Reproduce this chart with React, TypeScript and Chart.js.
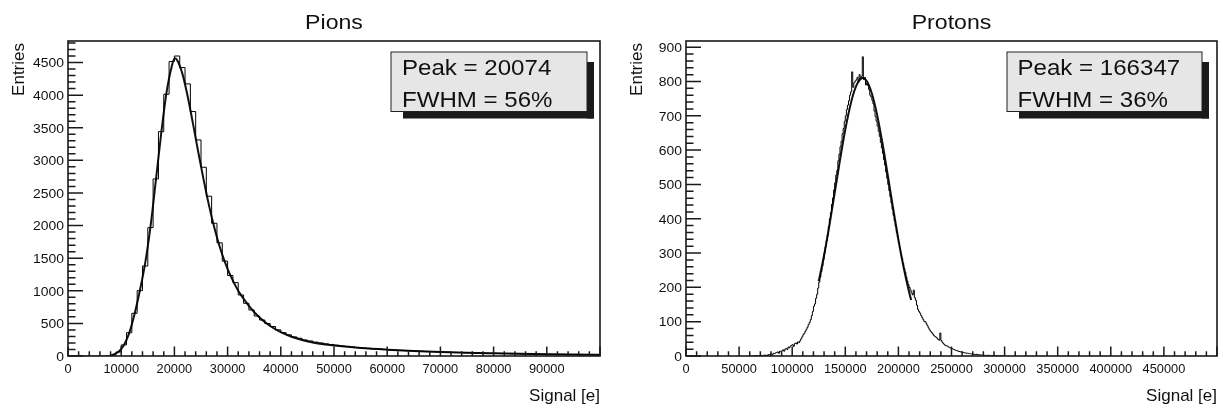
import React, { useEffect, useRef } from "react";
import { Chart, registerables } from "chart.js";

Chart.register(...registerables);

const FONT = "'Liberation Sans', Arial, Helvetica, sans-serif";

// ---------------- Pions ----------------
const PION_TITLE = "Pions";
const PION_BIN_START = 0;
const PION_BIN_WIDTH = 1000;
const PION_COUNTS = [
  0, 0, 0, 0, 0, 0, 0, 0, 15, 62,
  170, 357, 655, 1002, 1380, 1968, 2715, 3440, 4014, 4515,
  4600, 4422, 4172, 3748, 3313, 2894, 2450, 2035, 1735, 1455,
  1235, 1125, 936, 808, 706, 613, 552, 498, 452, 401,
  358, 325, 293, 272, 246, 231, 213, 201, 186, 177,
  166, 154, 147, 137, 131, 122, 118, 110, 106, 99,
  96, 90, 87, 82, 80, 75, 73, 68, 67, 63,
  61, 59, 55, 54, 50, 49, 46, 46, 42, 41,
  40, 37, 37, 34, 34, 31, 31, 29, 28, 27,
  26, 24, 24, 23, 21, 21, 20, 19, 19, 18,
];
const PION_FIT_X = [
  8000, 8500, 9500, 10500, 11500, 12500, 13500, 14500, 15500, 16500,
  17500, 18500, 19500, 20074, 20500, 21500, 22500, 23500, 24500, 25500,
  26500, 27500, 28500, 29500, 30500, 32000, 34000, 36000, 38000, 40000,
  42000, 44000, 46000, 48000, 50000, 55000, 60000, 65000, 70000, 75000,
  80000, 85000, 90000, 95000, 100000,
];
const PION_FIT_Y = [
  5, 20, 65, 165, 350, 640, 1000, 1420, 1980, 2680,
  3400, 4030, 4440, 4565, 4540, 4330, 3980, 3560, 3120, 2700,
  2310, 1970, 1680, 1440, 1240, 1000, 770, 590, 460, 365,
  295, 245, 208, 180, 160, 122, 97, 78, 63, 51,
  42, 34, 28, 23, 19,
];
const PION_X_TICK_LABELS = [0, 10000, 20000, 30000, 40000, 50000, 60000, 70000, 80000, 90000];
const PION_Y_TICK_LABELS = [0, 500, 1000, 1500, 2000, 2500, 3000, 3500, 4000, 4500];
const PION_STATS = ["Peak = 20074", "FWHM = 56%"];

// ---------------- Protons ----------------
const PROTON_TITLE = "Protons";
const PROTON_BIN_START = 60000;
const PROTON_BIN_WIDTH = 1000;
const PROTON_COUNTS = [
  0, 0, 0, 0, 0, 0, 1, 0, 0, 1,
  1, 0, 2, 1, 3, 2, 1, 4, 3, 5,
  6, 4, 8, 7, 9, 10, 12, 8, 14, 13,
  15, 18, 14, 20, 22, 19, 26, 24, 29, 31,
  33, 28, 36, 38, 35, 41, 39, 44, 50, 56,
  62, 66, 72, 78, 84, 92, 98, 106, 118, 130,
  145, 152, 168, 180, 198, 215, 230, 246, 262, 281,
  300, 318, 336, 352, 377, 400, 418, 442, 461, 484,
  505, 527, 541, 569, 588, 610, 626, 648, 663, 684,
  700, 718, 731, 744, 760, 770, 828, 783, 796, 801,
  805, 812, 798, 820, 808, 815, 872, 806, 812, 790,
  795, 788, 776, 760, 755, 745, 735, 714, 698, 684,
  670, 655, 640, 622, 606, 590, 572, 556, 536, 518,
  500, 482, 464, 446, 428, 410, 394, 378, 360, 346,
  330, 314, 298, 284, 270, 255, 244, 230, 218, 208,
  200, 192, 184, 178, 192, 170, 162, 148, 136, 130,
  125, 118, 112, 106, 100, 100, 94, 88, 82, 76,
  72, 68, 64, 60, 57, 55, 52, 48, 46, 67,
  45, 40, 36, 33, 30, 30, 28, 26, 24, 23,
  22, 20, 19, 17, 16, 15, 14, 13, 12, 12,
  11, 10, 9, 9, 8, 8, 7, 7, 6, 6,
  5, 5, 4, 5, 4, 4, 3, 3, 3, 2,
  2, 2, 1, 2, 2, 2, 1, 1, 1, 1,
  1, 0, 1, 1, 0, 0, 1, 0, 0, 0,
];
const PROTON_FIT_X = [
  125000, 130000, 135000, 140000, 145000, 150000, 155000, 160000, 165000, 166347,
  170000, 175000, 180000, 185000, 190000, 195000, 200000, 205000, 210000, 212000,
];
const PROTON_FIT_Y = [
  218, 293, 380, 475, 571, 660, 734, 785, 809, 810,
  802, 765, 702, 620, 527, 431, 339, 257, 187, 163,
];
const PROTON_X_TICK_LABELS = [0, 50000, 100000, 150000, 200000, 250000, 300000, 350000, 400000, 450000];
const PROTON_Y_TICK_LABELS = [0, 100, 200, 300, 400, 500, 600, 700, 800, 900];
const PROTON_STATS = ["Peak = 166347", "FWHM = 36%"];

type Panel = {
  title: string;
  binStart: number;
  binWidth: number;
  counts: number[];
  fitX: number[];
  fitY: number[];
  xMax: number;
  yMax: number;
  xMajor: number;
  xMinor: number;
  yMajor: number;
  yMinor: number;
  xLabels: number[];
  yLabels: number[];
  stats: string[];
  padding: { left: number; right: number; top: number; bottom: number };
  boxWidth: number;
  boxRightGap: number;
  textInset: number;
};

const PANELS: Panel[] = [
  {
    title: PION_TITLE,
    binStart: PION_BIN_START,
    binWidth: PION_BIN_WIDTH,
    counts: PION_COUNTS,
    fitX: PION_FIT_X,
    fitY: PION_FIT_Y,
    xMax: 100000,
    yMax: 4830,
    xMajor: 10000,
    xMinor: 2000,
    yMajor: 500,
    yMinor: 100,
    xLabels: PION_X_TICK_LABELS,
    yLabels: PION_Y_TICK_LABELS,
    stats: PION_STATS,
    padding: { left: 68, right: 11, top: 41, bottom: 53 },
    boxWidth: 196,
    boxRightGap: 13,
    textInset: 11,
  },
  {
    title: PROTON_TITLE,
    binStart: PROTON_BIN_START,
    binWidth: PROTON_BIN_WIDTH,
    counts: PROTON_COUNTS,
    fitX: PROTON_FIT_X,
    fitY: PROTON_FIT_Y,
    xMax: 500000,
    yMax: 918,
    xMajor: 50000,
    xMinor: 10000,
    yMajor: 100,
    yMinor: 20,
    xLabels: PROTON_X_TICK_LABELS,
    yLabels: PROTON_Y_TICK_LABELS,
    stats: PROTON_STATS,
    padding: { left: 75, right: 6, top: 41, bottom: 53 },
    boxWidth: 195,
    boxRightGap: 15,
    textInset: 10.5,
  },
];

function drawText(
  ctx: CanvasRenderingContext2D,
  s: string,
  x: number,
  y: number,
  size: number,
  align: CanvasTextAlign,
  sx = 1,
  rotate = 0
) {
  ctx.save();
  ctx.translate(x, y);
  if (rotate) ctx.rotate(rotate);
  ctx.scale(sx, 1);
  ctx.font = `${size}px ${FONT}`;
  ctx.textAlign = align;
  ctx.textBaseline = "alphabetic";
  ctx.fillStyle = "#111";
  ctx.fillText(s, 0, 0);
  ctx.restore();
}

function isMultiple(v: number, step: number) {
  const r = v / step;
  return Math.abs(r - Math.round(r)) < 1e-6;
}

function decorPlugin(p: Panel) {
  return {
    id: "rootDecor",
    afterDraw(chart: any) {
      const ctx: CanvasRenderingContext2D = chart.ctx;
      const { left, right, top, bottom } = chart.chartArea;
      const xs = chart.scales.x;
      const ys = chart.scales.y;
      ctx.save();

      // ticks
      ctx.strokeStyle = "#1a1a1a";
      ctx.lineWidth = 1.5;
      ctx.beginPath();
      for (let v = 0; v <= p.xMax + 1e-6; v += p.xMinor) {
        const px = xs.getPixelForValue(v);
        const len = isMultiple(v, p.xMajor) ? 9.5 : 4.7;
        ctx.moveTo(px, bottom);
        ctx.lineTo(px, bottom - len);
      }
      for (let v = 0; v <= p.yMax + 1e-6; v += p.yMinor) {
        const py = ys.getPixelForValue(v);
        const len = isMultiple(v, p.yMajor) ? 15 : 7.5;
        ctx.moveTo(left, py);
        ctx.lineTo(left + len, py);
      }
      ctx.stroke();

      // frame
      ctx.lineWidth = 1.6;
      ctx.strokeRect(left, top, right - left, bottom - top);

      // tick labels
      for (const v of p.xLabels) {
        drawText(ctx, String(v), xs.getPixelForValue(v), bottom + 17.3, 12.8, "center");
      }
      for (const v of p.yLabels) {
        drawText(ctx, String(v), left - 4, ys.getPixelForValue(v) + 4.8, 13, "right", 1.07);
      }

      // axis titles
      drawText(ctx, "Signal [e]", right, bottom + 45, 17, "right");
      drawText(ctx, "Entries", left - 44, top + 2, 17, "right", 1, -Math.PI / 2);

      // title
      drawText(ctx, p.title, (left + right) / 2, 29, 21, "center", 1.1);

      // stat box
      const bw = p.boxWidth;
      const bh = 59.5;
      const bx = right - p.boxRightGap - bw;
      const by = top + 11;
      ctx.fillStyle = "#1a1a1a";
      ctx.fillRect(bx + bw, by + 10, 7, bh - 10 + 7);
      ctx.fillRect(bx + 12, by + bh, bw - 12 + 7, 7);
      ctx.fillStyle = "#e6e6e6";
      ctx.fillRect(bx, by, bw, bh);
      ctx.strokeStyle = "#222";
      ctx.lineWidth = 1;
      ctx.strokeRect(bx, by, bw, bh);
      drawText(ctx, p.stats[0], bx + p.textInset, by + 23, 21.5, "left", 1.12);
      drawText(ctx, p.stats[1], bx + p.textInset, by + 55, 21.5, "left", 1.12);

      ctx.restore();
    },
  };
}

function makeConfig(p: Panel): any {
  const hist = p.counts.map((c, i) => ({ x: p.binStart + i * p.binWidth, y: c }));
  hist.push({
    x: p.binStart + p.counts.length * p.binWidth,
    y: p.counts[p.counts.length - 1],
  });
  const fit = p.fitX.map((x, i) => ({ x, y: p.fitY[i] }));
  return {
    type: "line",
    data: {
      datasets: [
        {
          data: hist,
          stepped: "before",
          borderColor: "#000",
          borderWidth: 1,
          pointRadius: 0,
          fill: false,
        },
        {
          data: fit,
          borderColor: "#111",
          borderWidth: 2,
          pointRadius: 0,
          fill: false,
          cubicInterpolationMode: "monotone",
        },
      ],
    },
    options: {
      animation: false,
      responsive: false,
      devicePixelRatio: 1,
      events: [],
      layout: { padding: p.padding },
      plugins: { legend: { display: false }, tooltip: { enabled: false }, title: { display: false } },
      scales: {
        x: { type: "linear", min: 0, max: p.xMax, display: false },
        y: { type: "linear", min: 0, max: p.yMax, display: false },
      },
    },
    plugins: [decorPlugin(p)],
  };
}

export default function App() {
  const leftRef = useRef<HTMLCanvasElement>(null);
  const rightRef = useRef<HTMLCanvasElement>(null);

  useEffect(() => {
    const charts = [
      new Chart(leftRef.current as HTMLCanvasElement, makeConfig(PANELS[0])),
      new Chart(rightRef.current as HTMLCanvasElement, makeConfig(PANELS[1])),
    ];
    return () => charts.forEach((c) => c.destroy());
  }, []);

  return (
    <div style={{ position: "absolute", left: 0, top: 0, width: 1223, height: 409, background: "#fff" }}>
      <canvas ref={leftRef} width={611} height={409} style={{ position: "absolute", left: 0, top: 0, width: 611, height: 409 }} />
      <canvas ref={rightRef} width={612} height={409} style={{ position: "absolute", left: 611, top: 0, width: 612, height: 409 }} />
    </div>
  );
}
